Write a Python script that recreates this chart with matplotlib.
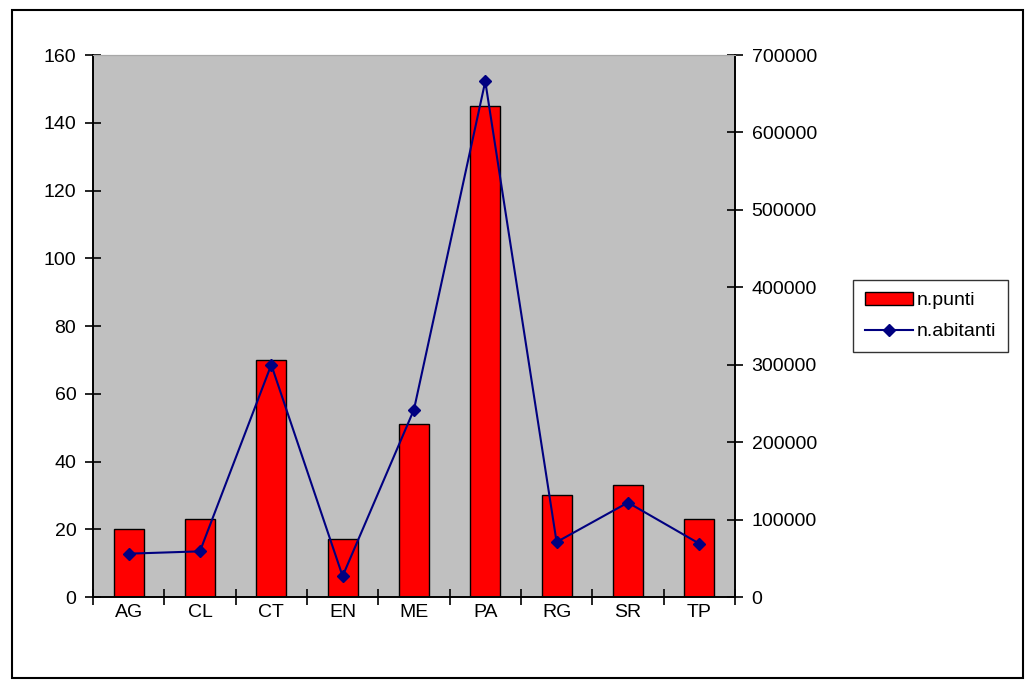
import matplotlib
matplotlib.use('Agg')

from matplotlib import pyplot as plt
from matplotlib.patches import Rectangle
import numpy as np

plt.rcParams['font.family'] = ['Liberation Sans', 'DejaVu Sans']

province = ['AG', 'CL', 'CT', 'EN', 'ME', 'PA', 'RG', 'SR', 'TP']
n_punti = [20, 23, 70, 17, 51, 145, 30, 33, 23]
n_abitanti = [56000, 59000, 300000, 27000, 242000, 666000, 71000, 122000, 69000]


def main():
    fig = plt.figure(figsize=(10.26, 6.81), dpi=100)
    ax = fig.add_axes([0.0906, 0.1233, 0.6257, 0.7959])
    ax.set_facecolor('#c0c0c0')

    x = np.arange(len(province))
    ax.bar(x, n_punti, width=0.42, color='#ff0000', edgecolor='black',
           linewidth=1.0, label='n.punti', zorder=2)
    ax.set_xlim(-0.5, len(province) - 0.5)
    ax.set_ylim(0, 160)
    ax.set_yticks(np.arange(0, 161, 20))

    ax2 = ax.twinx()
    ax2.plot(x, n_abitanti, color='#000080', linewidth=1.5, marker='D',
             markersize=6, label='n.abitanti', zorder=3)
    ax2.set_ylim(0, 700000)
    ax2.set_yticks(np.arange(0, 700001, 100000))

    # category ticks sit between the bars, labels at the centre
    ax.set_xticks(np.arange(-0.5, len(province), 1.0))
    ax.set_xticklabels([])
    ax.set_xticks(x, minor=True)
    ax.set_xticklabels(province, minor=True)
    ax.tick_params(axis='x', which='major', direction='inout', length=12, width=1.2)
    ax.tick_params(axis='x', which='minor', length=0, pad=5, labelsize=14)
    ax.tick_params(axis='y', direction='inout', length=12, width=1.2, labelsize=14, pad=6)
    ax2.tick_params(axis='y', direction='inout', length=12, width=1.2, labelsize=14, pad=6)

    for a in (ax, ax2):
        a.spines['top'].set_color('#a8a8a8')
        a.spines['top'].set_linewidth(0.8)
        for s in ('left', 'right', 'bottom'):
            a.spines[s].set_linewidth(1.2)

    h1, l1 = ax.get_legend_handles_labels()
    h2, l2 = ax2.get_legend_handles_labels()
    leg = fig.legend(h1 + h2, l1 + l2, loc='upper left',
                     bbox_to_anchor=(0.8314, 0.589), borderaxespad=0,
                     frameon=True, fancybox=False, edgecolor='black',
                     fontsize=14, handlelength=2.5, handletextpad=0.2,
                     borderpad=0.6, labelspacing=0.7)
    leg.get_frame().set_linewidth(1.0)

    fig.patches.append(Rectangle((0.0117, 0.004), 0.985, 0.981, transform=fig.transFigure,
                                 fill=False, edgecolor='black', linewidth=1.5))

    fig.savefig('out.png', dpi=100)


if __name__ == '__main__':
    main()
